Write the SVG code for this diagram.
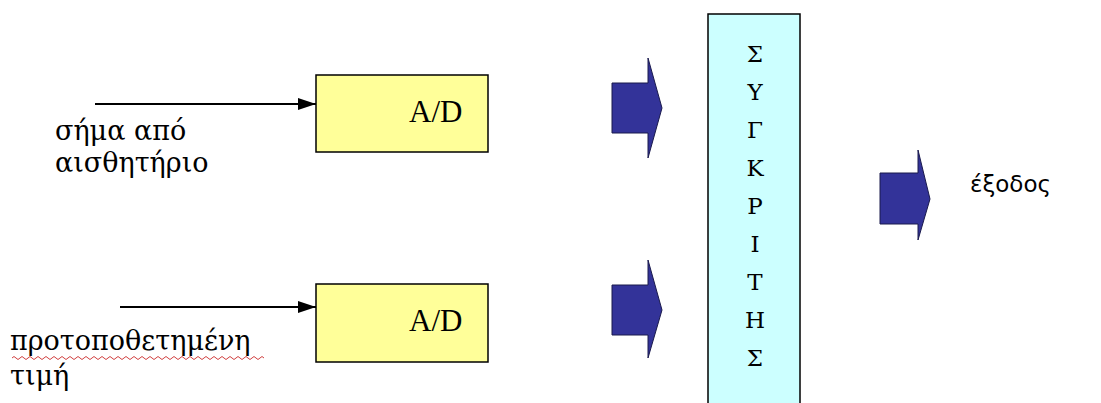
<svg xmlns="http://www.w3.org/2000/svg" width="1101" height="403" viewBox="0 0 1101 403">
<style>
.box{fill:#ffff99;stroke:#000;stroke-width:1.5}
.cmp{fill:#ccffff;stroke:#000;stroke-width:1.5}
.serif{font-family:"DejaVu Serif","Liberation Serif",serif;fill:#000}
.lbl{font-size:27px}
.ad{font-family:"Liberation Serif","Times New Roman",serif;font-size:31px;fill:#000}
.let{font-size:23px;text-anchor:middle}
.sans{font-family:"DejaVu Sans","Liberation Sans",sans-serif;font-size:23px;fill:#000}
.line{stroke:#000;stroke-width:2;fill:none}
.blk{fill:#333399;stroke:#1a1a4d;stroke-width:1}
</style>
<defs>
<marker id="ah" markerWidth="18" markerHeight="12" refX="18" refY="6" orient="auto" markerUnits="userSpaceOnUse" viewBox="0 0 18 12">
<path d="M0,0 L18,6 L0,12 z" fill="#000"/>
</marker>
</defs>
<rect width="1101" height="403" fill="#fff"/>
<g id="connectors">
<line class="line" x1="95" y1="104" x2="316" y2="104" marker-end="url(#ah)"/>
<line class="line" x1="120" y1="307" x2="316" y2="307" marker-end="url(#ah)"/>
<path class="blk" d="M612,83 H648 V58 L662,108 L648,158 V133 H612 Z"/>
<path class="blk" d="M612,285 H648 V260 L662,310 L648,358 V335 H612 Z"/>
<path class="blk" d="M880,173 H918 V150 L930,199 L918,240 V224 H880 Z"/>
</g>
<g id="label-sensor">
<text class="serif lbl" x="55" y="140">σήμα από</text>
<text class="serif lbl" x="55" y="172">αισθητήριο</text>
</g>
<g id="label-preset">
<text class="serif lbl" x="10" y="350">προτοποθετημένη</text>
<path d="M12,358 q2,-3 4,0 t4,0 t4,0 t4,0 t4,0 t4,0 t4,0 t4,0 t4,0 t4,0 t4,0 t4,0 t4,0 t4,0 t4,0 t4,0 t4,0 t4,0 t4,0 t4,0 t4,0 t4,0 t4,0 t4,0 t4,0 t4,0 t4,0 t4,0 t4,0 t4,0 t4,0 t4,0 t4,0 t4,0 t4,0 t4,0 t4,0 t4,0 t4,0 t4,0 t4,0 t4,0 t4,0 t4,0 t4,0 t4,0 t4,0 t4,0 t4,0 t4,0 t4,0 t4,0 t4,0 t4,0 t4,0 t4,0 t4,0 t4,0 t4,0 t4,0 t4,0 t4,0 t4,0" fill="none" stroke="#d04040" stroke-width="1"/>
<text class="serif lbl" x="10" y="385">τιμή</text>
</g>
<g id="ad1">
<rect class="box" x="316" y="75" width="172" height="77"/>
<text class="ad" x="409" y="122">A/D</text>
</g>
<g id="ad2">
<rect class="box" x="316" y="284" width="172" height="78"/>
<text class="ad" x="409" y="331">A/D</text>
</g>
<g id="comparator">
<rect class="cmp" x="708" y="14" width="92" height="400"/>
<text class="serif let" x="755" y="62">Σ</text>
<text class="serif let" x="755" y="100">Υ</text>
<text class="serif let" x="755" y="138">Γ</text>
<text class="serif let" x="755" y="176">Κ</text>
<text class="serif let" x="755" y="214">Ρ</text>
<text class="serif let" x="755" y="252">Ι</text>
<text class="serif let" x="755" y="290">Τ</text>
<text class="serif let" x="755" y="328">Η</text>
<text class="serif let" x="755" y="366">Σ</text>
</g>
<g id="output">
<text class="sans" x="970" y="192">έξοδος</text>
</g>
</svg>
